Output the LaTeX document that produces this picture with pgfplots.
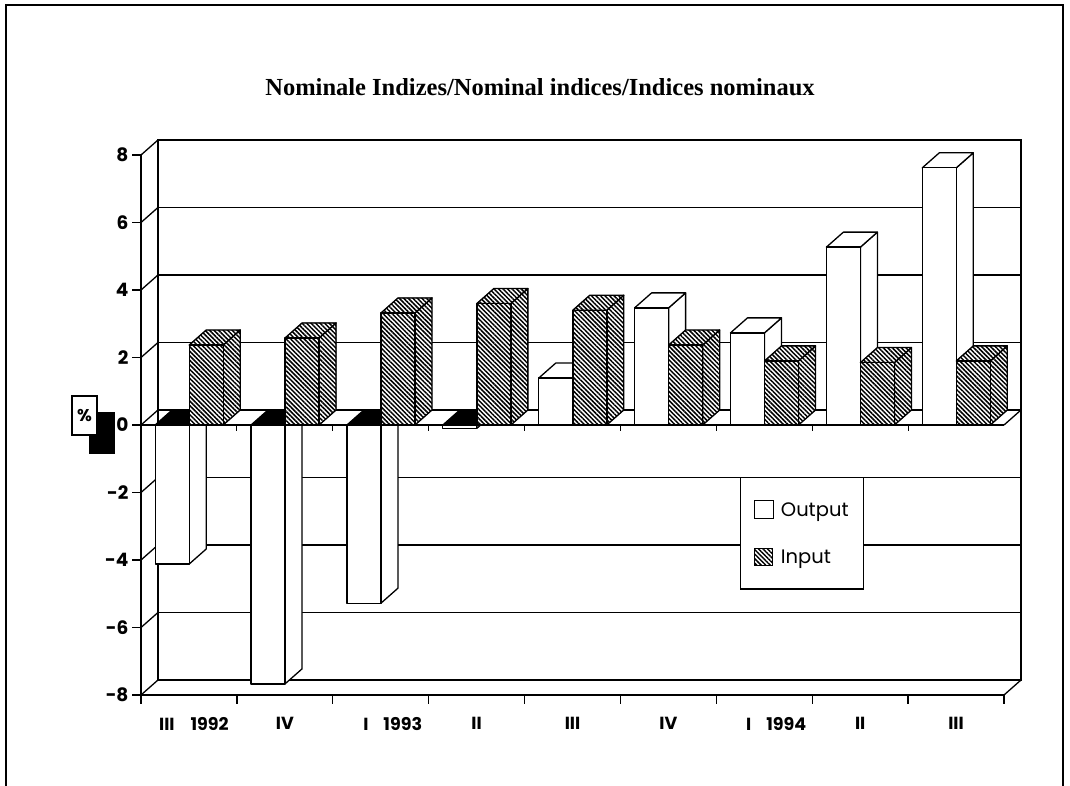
\documentclass[border=0pt]{standalone}
\usepackage{pgfplots}
\pgfplotsset{compat=1.18}
\usepackage{pgfplotstable}
\usetikzlibrary{patterns.meta}
\usepackage{fontspec}
\setmainfont{Poppins}
\newfontfamily\titlefont{Liberation Serif}
\newfontfamily\gothic{Poppins}

\pgfplotstableread{
q out in
1 -4.12 2.37
2 -7.67 2.58
3 -5.28 3.32
4 -0.10 3.60
5 1.39 3.40
6 3.47 2.37
7 2.73 1.90
8 5.27 1.85
9 7.62 1.90
}\data

\tikzset{
  hatch/.style={preaction={fill=white}, pattern={Lines[angle=-45,distance=3.2pt,line width=1.5pt]}},
  bedge/.style={line width=1.3pt, line join=round},
}

\begin{document}
\begin{tikzpicture}
\path[use as bounding box] (0pt,0pt) rectangle (1070pt,786pt);
% frame
\draw[line width=1.6pt] (6pt,0pt) -- (6pt,781pt) -- (1063pt,781pt) -- (1063pt,0pt);
% title
\node[font=\titlefont\bfseries\fontsize{24.5}{28}\selectfont] at (540pt,699pt) {Nominale Indizes/Nominal indices/Indices nominaux};

% back wall
\begin{axis}[
  at={(158pt,106pt)}, anchor=south west,
  x=95.889pt, y=33.75pt, xmin=0, xmax=9, ymin=-8, ymax=8,
  xtick=\empty, ytick={-6,-4,...,6}, yticklabels={}, major tick length=0pt,
  ymajorgrids, grid style={black, line width=1.5pt},
  axis line style={line width=1.5pt},
]
\end{axis}

% side-wall connectors and zero plane
\foreach \v in {-8,-6,...,8} \draw[line width=1.3pt] (141pt,{91pt+(\v+8)*33.75pt}) -- ++(17pt,15pt);
\draw[line width=1.3pt] (1004pt,91pt) -- ++(17pt,15pt);
\draw[line width=1.3pt] (1004pt,361pt) -- ++(17pt,15pt);
\draw[line width=1.3pt] (141pt,361pt) -- (1004pt,361pt);
\foreach \i in {1,...,8} \draw[line width=1.2pt] ({141pt+\i*95.889pt},361pt) -- ++(0pt,-6pt);

% front axis with bars
\begin{axis}[
  at={(141pt,91pt)}, anchor=south west,
  x=95.889pt, y=33.75pt, xmin=0, xmax=9, ymin=-8, ymax=8,
  clip=false,
  axis x line=bottom, axis y line=left,
  axis line style={-, line width=1.5pt},
  tick style={black, line width=1.3pt},
  tick align=outside, major tick length=9pt,
  xtick={0,...,9}, xticklabels={},
  extra x ticks={0.5,1.5,...,8.5},
  extra x tick labels={\hspace{10pt}III\hspace{16pt}1992, IV, \hspace{24pt}I\hspace{15pt}1993, II, III, IV, \hspace{24pt}I\hspace{15pt}1994, II, III},
  extra x tick style={major tick length=0pt, tick label style={font=\gothic\bfseries\fontsize{17.5}{19}\selectfont, yshift=-19pt}},
  ytick={-8,-6,...,8},
  /pgf/number format/assume math mode=true,
  yticklabel style={font=\gothic\bfseries\fontsize{18.5}{19}\selectfont},
  legend style={at={(0.694,0.4037)}, anchor=north west, draw=black, line width=1.4pt, fill=white,
    font=\gothic\fontsize{19.5}{22}\selectfont, row sep=28pt, column sep=5pt, inner xsep=13pt, inner ysep=22pt},
  legend cell align=left,
]
\addplot[scatter, only marks, mark=*, mark size=0pt, mark options={draw=none,fill=none},
  point meta=y,
  visualization depends on={\thisrow{out} \as \val},
  scatter/@pre marker code/.code={%
    \pgfmathsetmacro\hb{-\val*33.75}%
    \pgfmathsetmacro\hbd{\hb+15}%
    \pgfmathsetmacro\yt{max(0,\hb)}%
    \pgfmathsetmacro\ytd{\yt+15}%
    \ifdim\val pt<0pt\def\topfill{black}\else\def\topfill{white}\fi
    \draw[bedge, fill=white] (17pt,0pt) -- (34pt,15pt) -- (34pt,\hbd pt) -- (17pt,\hb pt) -- cycle;
    \draw[bedge, fill=\topfill] (-17pt,\yt pt) -- (0pt,\ytd pt) -- (34pt,\ytd pt) -- (17pt,\yt pt) -- cycle;
    \draw[bedge, fill=white] (-17pt,\hb pt) rectangle (17pt,0pt);
  },
  scatter/@post marker code/.code={},
  legend image code/.code={\draw[line width=1.3pt, fill=white] (0pt,-8pt) rectangle (19pt,10pt);},
] table[x expr=\coordindex+0.325, y=out] {\data};
\addlegendentry{Output}
\addplot[scatter, only marks, mark=*, mark size=0pt, mark options={draw=none,fill=none},
  point meta=y,
  visualization depends on={\thisrow{in} \as \val},
  scatter/@pre marker code/.code={%
    \pgfmathsetmacro\hb{-\val*33.75}%
    \pgfmathsetmacro\hbd{\hb+15}%
    \pgfmathsetmacro\yt{max(0,\hb)}%
    \pgfmathsetmacro\ytd{\yt+15}%
    \draw[bedge, hatch] (17pt,0pt) -- (34pt,15pt) -- (34pt,\hbd pt) -- (17pt,\hb pt) -- cycle;
    \draw[bedge, hatch] (-17pt,\yt pt) -- (0pt,\ytd pt) -- (34pt,\ytd pt) -- (17pt,\yt pt) -- cycle;
    \draw[bedge, hatch] (-17pt,\hb pt) rectangle (17pt,0pt);
  },
  scatter/@post marker code/.code={},
  legend image code/.code={\draw[line width=1.3pt, hatch] (0pt,-8pt) rectangle (18pt,9pt);},
] table[x expr=\coordindex+0.68, y=in] {\data};
\addlegendentry{Input}
% percent icon
\node[fill=black, minimum width=26pt, minimum height=42pt, inner sep=0pt] at ([xshift=-39pt,yshift=-8pt]axis cs:0,0) {};
\node[draw, line width=1.3pt, fill=white, minimum width=25pt, minimum height=39pt, inner sep=0pt,
  font=\bfseries\fontsize{17}{17}\selectfont] at ([xshift=-56.5pt,yshift=9.5pt]axis cs:0,0) {\%};
\end{axis}
\end{tikzpicture}
\end{document}
